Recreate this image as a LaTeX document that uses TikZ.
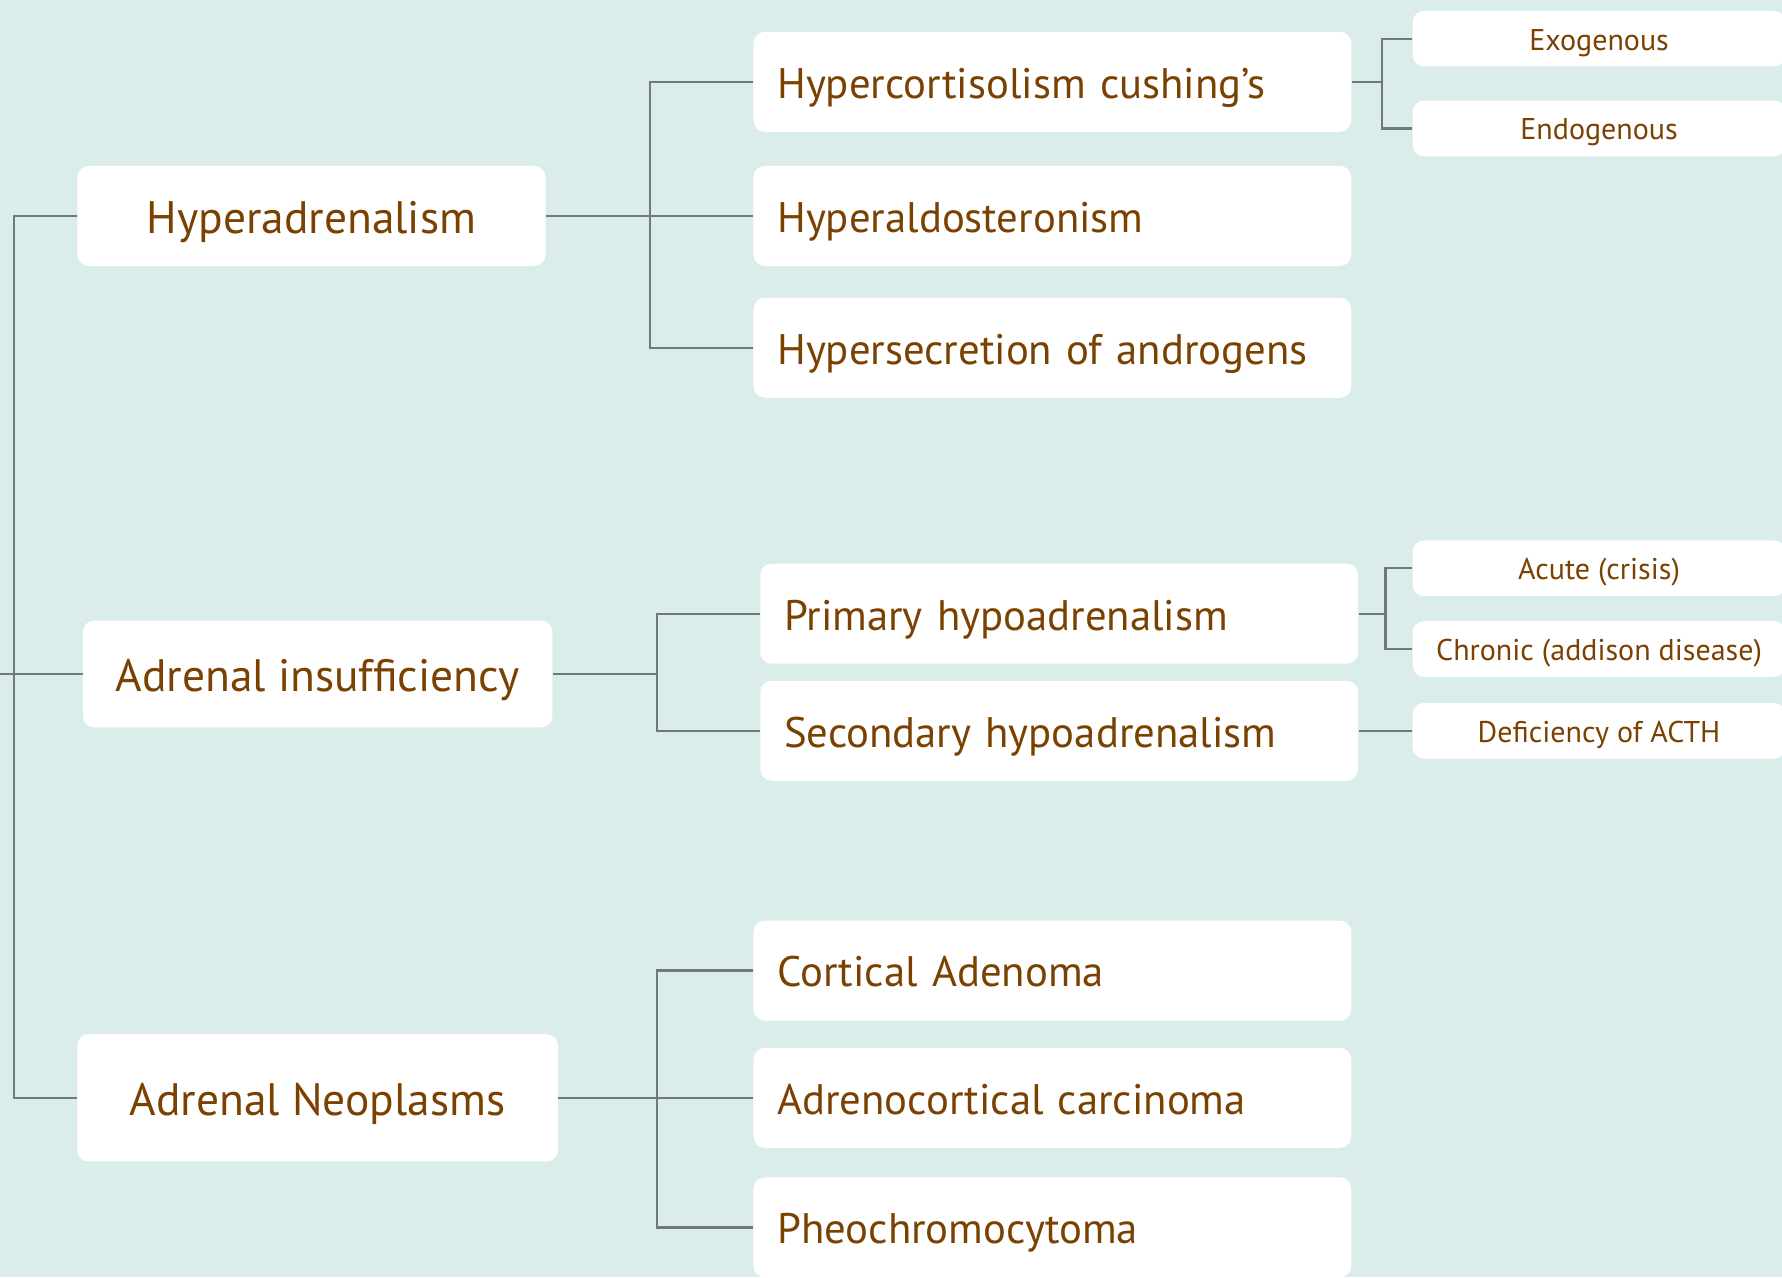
\documentclass[tikz,border=0pt]{standalone}
\usepackage{fontspec}
\setmainfont{PT Sans}
\usetikzlibrary{positioning}
\definecolor{bgteal}{HTML}{DBEDEA}
\definecolor{txtbrown}{HTML}{7A4100}
\definecolor{linegray}{HTML}{71787C}

\begin{document}
\begin{tikzpicture}[
	x=0.5pt, y=-0.5pt,
	box/.style = {fill=white, rounded corners=5pt, text=txtbrown, inner sep=0pt},
	topbox/.style = {box, minimum height=44pt, text height=18pt, text depth=2.8pt, font=\fontsize{20}{24}\selectfont},
	midbox/.style = {box, minimum width=263pt, minimum height=44pt, text width=242pt, inner xsep=10.5pt, align=left, text height=17pt, text depth=2.6pt, font=\fontsize{18.8}{22}\selectfont},
	leafbox/.style = {box, minimum width=164pt, minimum height=24.5pt, text height=11.9pt, text depth=1.8pt, font=\fontsize{13.2}{16}\selectfont},
	link/.style = {draw=linegray, line width=1pt}
	]
	\useasboundingbox (0,0) rectangle (1568,1124);
	\clip (0,0) rectangle (1568,1124);
	\fill[bgteal] (0,0) rectangle (1568,1124);

	% first level
	\node[topbox, minimum width=206pt] (hyper) at (274,190) {Hyperadrenalism};
	\node[topbox, minimum width=206.5pt, minimum height=47pt] (insuf) at (279.5,593) {Adrenal insufficiency};
	\node[topbox, minimum width=211.5pt, minimum height=56pt] (neopl) at (279.5,966) {Adrenal Neoplasms};

	% second level
	\node[midbox] (cushing) at (926,72) {Hypercortisolism cushing’s};
	\node[midbox] (aldo) at (926,190) {Hyperaldosteronism};
	\node[midbox] (andro) at (926,306) {Hypersecretion of androgens};
	\node[midbox] (prim) at (932,540) {Primary hypoadrenalism};
	\node[midbox] (second) at (932,643) {Secondary hypoadrenalism};
	\node[midbox] (cortad) at (926,854) {Cortical Adenoma};
	\node[midbox] (carcin) at (926,966) {Adrenocortical carcinoma};
	\node[midbox] (pheo) at (926,1080) {Pheochromocytoma};

	% third level
	\node[leafbox] (exo) at (1407,34) {Exogenous};
	\node[leafbox] (endo) at (1407,113) {Endogenous};
	\node[leafbox] (acute) at (1407,500) {Acute (crisis)};
	\node[leafbox] (chronic) at (1407,571) {Chronic (addison disease)};
	\node[leafbox] (acth) at (1407,643) {Deficiency of ACTH};

	% junctions
	\coordinate (root) at (0,593);
	\coordinate (@r) at (12,593);
	\coordinate (@1) at (572,190);
	\coordinate (@2) at (578,593);
	\coordinate (@3) at (578,966);
	\coordinate (@4) at (1216,72);
	\coordinate (@5) at (1219,540);

	\draw[link] (root) -- (insuf.west);
	\draw[link] (hyper.west) -| (@r) |- (neopl.west);

	\draw[link] (hyper.east) -- (aldo.west);
	\draw[link] (cushing.west) -| (@1) |- (andro.west);

	\draw[link] (insuf.east) -- (@2);
	\draw[link] (prim.west) -| (@2) |- (second.west);

	\draw[link] (neopl.east) -- (carcin.west);
	\draw[link] (cortad.west) -| (@3) |- (pheo.west);

	\draw[link] (cushing.east) -- (@4);
	\draw[link] (exo.west) -| (@4) |- (endo.west);
	\draw[link] (prim.east) -- (@5);
	\draw[link] (acute.west) -| (@5) |- (chronic.west);
	\draw[link] (second.east) -- (acth.west);

\end{tikzpicture}
\end{document}
